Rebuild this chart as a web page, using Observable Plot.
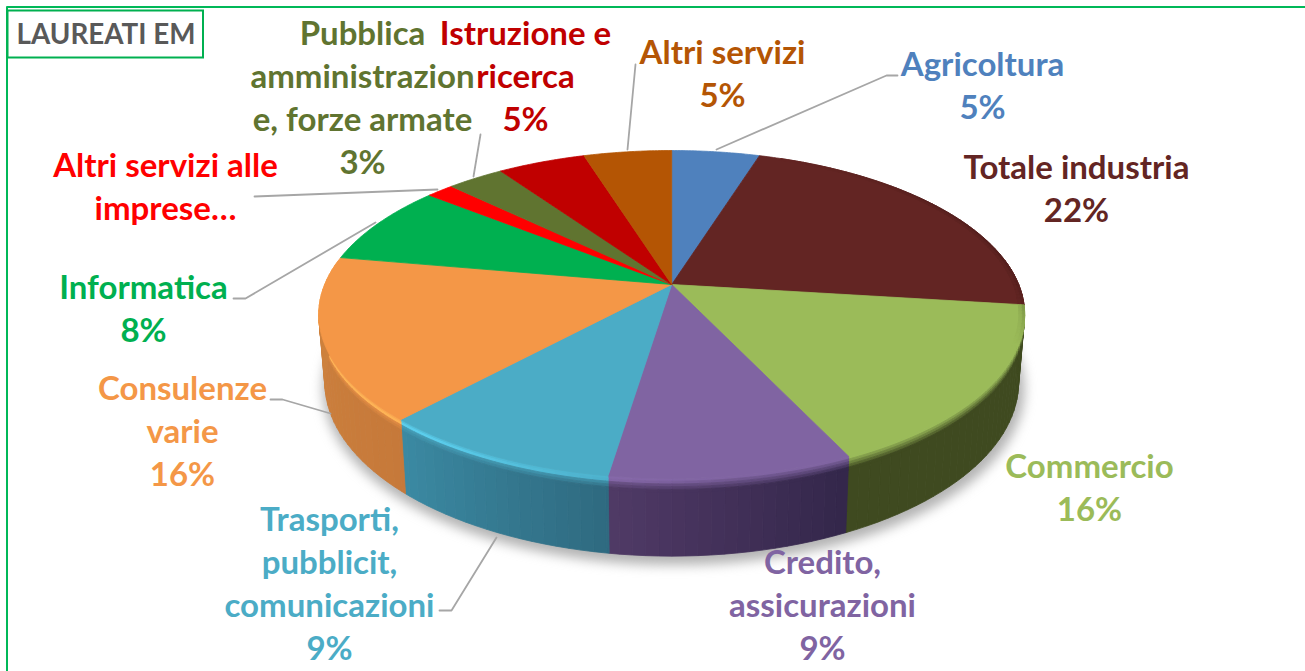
<!DOCTYPE html>
<html><head><meta charset="utf-8">
<script src="https://cdn.jsdelivr.net/npm/d3@7"></script>
<script src="https://cdn.jsdelivr.net/npm/@observablehq/plot@0.6"></script>
<style>html,body{margin:0;padding:0;background:#fff;overflow:hidden}svg{display:block}</style>
</head><body><div id="chart"></div>
<script>
// ---- data
const categories = ["Agricoltura","Totale industria","Commercio","Credito, assicurazioni","Trasporti, pubblicit, comunicazioni","Consulenze varie","Informatica","Altri servizi alle imprese","Pubblica amministrazione, forze armate","Istruzione e ricerca","Altri servizi"];
const shares = [4.8,22.2,16,9.4,9.4,16,8,1.5,3.1,4.8,4.8];
const labelLines = [["Agricoltura","5%"],["Totale industria","22%"],["Commercio","16%"],["Credito,","assicurazioni","9%"],["Trasporti,","pubblicit,","comunicazioni","9%"],["Consulenze","varie","16%"],["Informatica","8%"],["Altri servizi alle","imprese…"],["Pubblica","amministrazion","e, forze armate","3%"],["Istruzione e","ricerca","5%"],["Altri servizi","5%"]];
const title = "LAUREATI EM";
// ---- styles
const sliceColors = ["#4f81bd","#632523","#9bbb59","#8064a2","#4bacc6","#f49747","#00b050","#ff0000","#607430","#c00000","#b45504"];
const wallLeft  = ["#3f6a9c","#4a1c1a","#3f4a20","#503a66","#3b8aa3","#d0843e","#00803a","#c00000","#445322","#900000","#8a4003"];
const wallRight = ["#3f6a9c","#4a1c1a","#3f4a20","#33264a","#2f6a80","#c6793a","#00803a","#c00000","#445322","#900000","#8a4003"];
// ---- layout of the drawing
const W = 1305, H = 671, LH = 43;
const labelAnchor = [[982,65],[1076,168],[1089,467],[822,563],[329,520],[182,389],[143,288],[165,166],[362,34],[525,34],[722,53]];
const leaders = [
 [[716,149],[886,75],[897,75]],
 [[627,149],[635,64]],
 [[473,176],[480,134]],
 [[437,189],[254,196]],
 [[375,222],[245,298],[233,298]],
 [[330,413],[282,399],[270,399]],
 [[496,537],[451,610],[439,610]]
];
// perspective projection of the disc
const cx = 671.2, k = 0.183;
const topRim = {cy:284, a:347, b:158.5}, botRim = {cy:350, a:341, b:168};
const proj = (th, r, s) => {                      // th clockwise from top, r radius, s 0 top..1 bottom
  const u = r*Math.sin(th), v = -r*Math.cos(th), w = 1 - k*v;
  const a = topRim.a+(botRim.a-topRim.a)*s, b = topRim.b+(botRim.b-topRim.b)*s, cy = topRim.cy+(botRim.cy-topRim.cy)*s;
  return [cx + a*u/w, cy + b*v/w];
};
const total = d3.sum(shares);
let acc = 0;
const slices = shares.map((v,i)=>{const a0=acc/total*2*Math.PI; acc+=v; return {i,a0,a1:acc/total*2*Math.PI};});
const poly = (id, color, pts) => [...pts,pts[0]].map(p=>({id,color,x:p[0],y:p[1]}));

// top faces
let topFaces = [];
for (const s of slices) {
  const pts=[proj(0,0,0)], n=Math.ceil((s.a1-s.a0)/0.01);
  for(let j=0;j<=n;j++) pts.push(proj(s.a0+(s.a1-s.a0)*j/n,1,0));
  topFaces.push(...poly("t"+s.i, sliceColors[s.i], pts));
}
// side wall, cut into small quads for the shading
const mix = d3.interpolateRgb;
const bevel = [0,0.035,0.07,0.105,0.14,0.18];
let walls = [];
const A0 = Math.PI*0.45, A1 = Math.PI*1.55;
const nA = 110; let qid=0;
// light comes from the left: factor 0..1, 1 = lit front-left
const lit = th => Math.max(0, Math.min(1, (th-Math.PI*0.95)/(Math.PI*0.25)));
for (let q=0;q<nA;q++){
  const t0=A0+(A1-A0)*q/nA, t1=A0+(A1-A0)*(q+1)/nA;
  for (const s of slices){
    const a=Math.max(t0,s.a0), b=Math.min(t1,s.a1);
    if (b<=a) continue;
    const f=((a+b)/2-s.a0)/Math.max(s.a1-s.a0,1e-6);
    const wall=d3.color(mix(wallRight[s.i],wallLeft[s.i])(f)).formatHex();
    const hi=d3.color(sliceColors[s.i]).brighter(0.5).formatHex();
    const l=lit((a+b)/2);
    walls.push(...poly("w"+(qid++),wall,[proj(a,1,.17),proj(b,1,.17),proj(b,1,1),proj(a,1,1)]));
    for(let m=0;m<bevel.length-1;m++){
      const g=m/(bevel.length-2);
      const base=mix(sliceColors[s.i],wall)(g);
      const col=g<0.5? mix(base,hi)(l*(m===1?1:0.55)) : base;
      walls.push(...poly("w"+(qid++),d3.color(col).formatHex(),[proj(a,1,bevel[m]),proj(b,1,bevel[m]),proj(b,1,bevel[m+1]),proj(a,1,bevel[m+1])]));
    }
  }
}
// dark inner lip along the right of the disc
let lip=[];
const lipFrom=Math.PI*0.12, lipTo=Math.PI*0.62;
for (const s of slices){
  const a=Math.max(s.a0,lipFrom), b=Math.min(s.a1,lipTo);
  if(b<=a) continue;
  const n=Math.ceil((b-a)/0.02);
  for(let j=0;j<n;j++){
    const x0=a+(b-a)*j/n,x1=a+(b-a)*(j+1)/n;
    const fade=Math.min(1,(x0-lipFrom)/(Math.PI*0.2),(lipTo-x1)/(Math.PI*0.15));
    for(const [r0,r1,o] of [[.992,1,.6],[.984,.992,.25]]){
      lip.push(...poly("l"+(qid++),d3.color(mix(sliceColors[s.i],wallRight[s.i])(o*fade)).formatHex(),[proj(x0,r0,0),proj(x1,r0,0),proj(x1,r1,0),proj(x0,r1,0)]));
    }
  }
}
// soft shadow
let shadowPts=[];
for(let j=0;j<=120;j++){const th=j/120*2*Math.PI; const p=proj(th,1.012,1.05); shadowPts.push({x:p[0]+2,y:p[1]+2});}

const textRows = labelLines.flatMap((ls,i)=>ls.map((line,j)=>({line,color:sliceColors[i],x:labelAnchor[i][0],y:labelAnchor[i][1]+j*LH})));
const leaderPts = leaders.flatMap((l,i)=>l.map(p=>({id:i,x:p[0],y:p[1]})));

const poly4 = (d)=>Plot.line(d,{x:"x",y:"y",z:"id",fill:"color",stroke:"color",strokeWidth:0.8,strokeLinejoin:"round"});
document.getElementById("chart").append(Plot.plot({
  width:W,height:H,margin:0,
  style:{background:"#fff",fontFamily:"Lato, sans-serif"},
  x:{domain:[0,W],range:[0,W],axis:null},
  y:{domain:[0,H],range:[0,H],axis:null},
  color:{type:"identity"},
  marks:[
    // frame
    Plot.line([{x:W+5,y:6.5},{x:6.5,y:6.5},{x:6.5,y:H+5}],{x:"x",y:"y",stroke:"#00b858",strokeWidth:2}),
    Plot.rect([{x1:7.5,x2:203,y1:10.5,y2:57.5}],{x1:"x1",x2:"x2",y1:"y1",y2:"y2",stroke:"#00b050",strokeWidth:2,fill:"#fff"}),
    Plot.text([title],{x:[105.5],y:[34.5],text:d=>d,fill:"#595959",fontSize:27.8,fontWeight:700}),
    // shadow, pie
    Plot.line(shadowPts,{x:"x",y:"y",fill:"#9a9a9a",stroke:"none",fillOpacity:.75,imageFilter:"blur(6px)"}),
    poly4(walls),
    poly4(topFaces),
    poly4(lip),
    // leaders, labels
    Plot.line(leaderPts,{x:"x",y:"y",z:"id",stroke:"#a6a6a6",strokeWidth:1.8}),
    Plot.text(textRows,{x:"x",y:"y",text:"line",fill:"color",fontSize:33,fontWeight:700,textAnchor:"middle",lineAnchor:"middle"})
  ]
}));
</script></body></html>
